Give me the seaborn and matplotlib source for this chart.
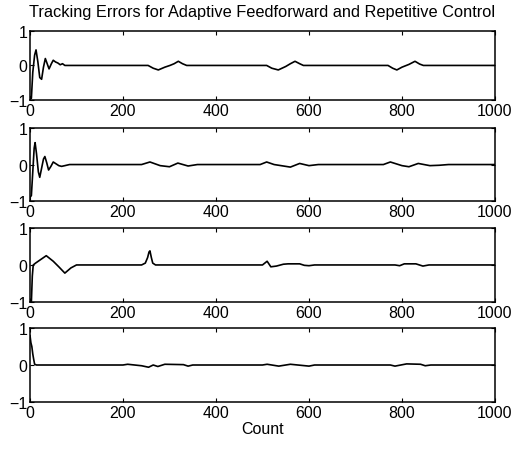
import pandas as pd
import matplotlib
matplotlib.use("Agg")
import matplotlib.pyplot as plt
import seaborn as sns

sns.set_style("ticks")
plt.rcParams['font.family'] = ['Liberation Sans', 'DejaVu Sans']
plt.rcParams['text.color'] = 'black'
plt.rcParams['axes.labelcolor'] = 'black'

# Tracking error traces (count, error)
count_1 = [0, 3, 6, 10, 13, 17, 21, 25, 29, 33, 37, 41, 46, 50, 55, 60, 65, 70, 75, 90,
           254, 265, 276, 290, 301, 310, 319, 328, 337,
           509, 520, 534, 550, 560, 570, 580, 588,
           770, 780, 789, 800, 815, 828, 838, 846, 1000]
error_1 = [-0.9, -0.95, -0.2, 0.3, 0.45, 0.1, -0.35, -0.4, -0.05, 0.2, 0.05, -0.1, 0.05, 0.15, 0.1, 0.07, 0.02, 0.05, 0.0, 0.0,
           0.0, -0.08, -0.13, -0.05, 0.0, 0.05, 0.12, 0.05, 0.0,
           0.0, -0.08, -0.13, -0.03, 0.05, 0.12, 0.05, 0.0,
           0.0, -0.08, -0.13, -0.05, 0.03, 0.12, 0.04, 0.0, 0.0]

count_2 = [0, 3, 6, 9, 11, 14, 18, 21, 25, 29, 32, 36, 40, 45, 50, 56, 62, 68, 75, 85, 95,
           240, 258, 280, 300, 318, 340, 360,
           495, 509, 525, 540, 560, 580, 600, 620,
           760, 775, 800, 815, 835, 860, 880, 900, 1000]
error_2 = [-0.9, -0.85, -0.2, 0.45, 0.6, 0.3, -0.2, -0.35, -0.1, 0.15, 0.22, 0.05, -0.15, -0.05, 0.07, 0.02, -0.03, -0.05, -0.03, 0.0, 0.0,
           0.0, 0.07, -0.03, -0.06, 0.04, -0.04, 0.0,
           0.0, 0.07, 0.0, -0.03, -0.07, 0.03, -0.03, 0.0,
           0.0, 0.07, -0.03, -0.06, 0.03, -0.03, -0.02, 0.0, 0.0]

count_3 = [0, 3, 5, 7, 12, 20, 35, 50, 62, 75, 88, 100,
           240, 248, 253, 256, 258, 261, 264, 270,
           500, 510, 518, 530, 545, 555, 580, 590, 600, 612,
           785, 795, 805, 830, 845, 858, 1000]
error_3 = [-1.0, -1.0, -0.3, 0.0, 0.05, 0.12, 0.25, 0.1, -0.05, -0.22, -0.08, 0.0,
           0.0, 0.05, 0.2, 0.35, 0.38, 0.2, 0.05, 0.0,
           0.0, 0.1, -0.05, -0.03, 0.02, 0.03, 0.03, -0.01, -0.02, 0.0,
           0.0, -0.02, 0.03, 0.03, -0.03, 0.0, 0.0]

count_4 = [0, 2, 4, 6, 8, 10, 14, 200,
           210, 240, 255, 265, 275, 290, 330, 340, 350,
           500, 510, 535, 560, 600, 612,
           775, 785, 810, 840, 850, 862, 1000]
error_4 = [0.8, 0.6, 0.5, 0.3, 0.15, 0.02, 0.0, 0.0,
           0.02, -0.02, -0.06, 0.0, -0.04, 0.02, 0.01, -0.03, 0.0,
           0.0, 0.02, -0.03, 0.02, -0.03, 0.0,
           0.0, -0.03, 0.03, 0.02, -0.02, 0.0, 0.0]

x_ticks = [0, 200, 400, 600, 800, 1000]
y_ticks = [-1, 0, 1]

traces = [(count_1, error_1), (count_2, error_2), (count_3, error_3), (count_4, error_4)]

fig = plt.figure(figsize=(5.26, 4.52), dpi=100)
# (bottom, height) of each panel in figure fraction
panel_pos = [(0.7765, 0.153), (0.553, 0.1615), (0.3296, 0.164), (0.1084, 0.1637)]

for (xs, ys), (b, h) in zip(traces, panel_pos):
    ax = fig.add_axes([0.057, b, 0.884, h])
    df = pd.DataFrame({'Count': xs, 'Error': ys})
    sns.lineplot(data=df, x='Count', y='Error', ax=ax, color='black',
                 linewidth=1.2, estimator=None, sort=False)
    ax.set_xlim(0, 1000)
    ax.set_ylim(-1, 1)
    ax.set_xticks(x_ticks)
    ax.set_yticks(y_ticks)
    ax.set_xlabel('')
    ax.set_ylabel('')
    ax.tick_params(direction='in', top=True, right=True, length=3,
                   labelsize=11.5, pad=2, colors='black')
    for s in ax.spines.values():
        s.set_linewidth(1.1)
        s.set_color('black')
    if b > 0.7:
        ax.set_title('Tracking Errors for Adaptive Feedforward and Repetitive Control',
                     fontsize=11.8, pad=11, color='black')
    if b < 0.2:
        ax.set_xlabel('Count', fontsize=11.5, labelpad=1, color='black')

fig.savefig('out.png', dpi=100)
